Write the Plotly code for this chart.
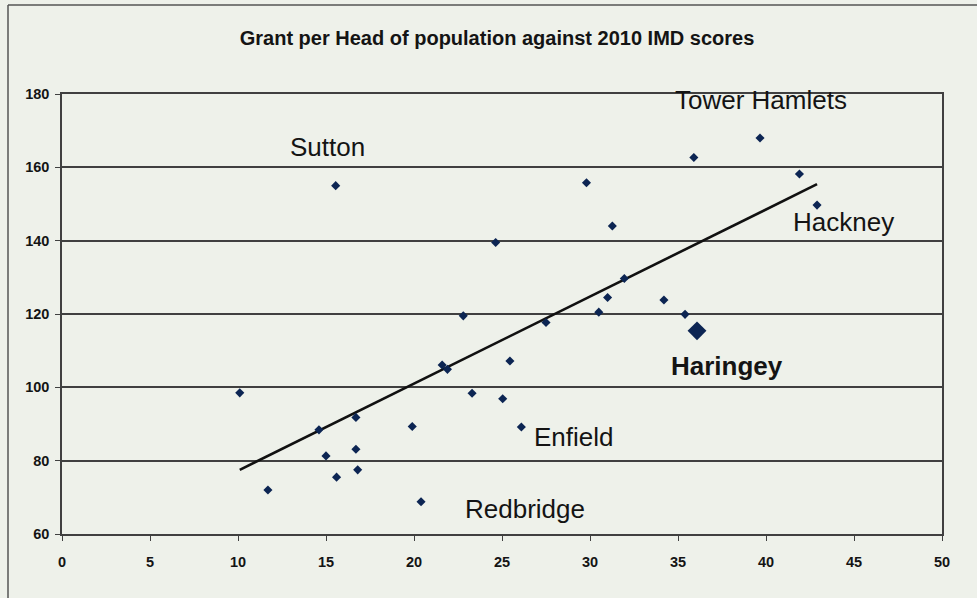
import plotly.graph_objects as go

# IMD 2010 score (x) vs grant per head of population (y), London boroughs
imd_scores = [10.1, 11.7, 14.6, 15.0, 15.6, 15.55, 16.7, 16.7, 16.8, 19.9, 20.4,
              21.6, 21.9, 22.8, 23.3, 24.64, 25.04, 25.45, 26.1, 27.5, 29.8,
              30.5, 31.0, 31.27, 31.95, 34.2, 35.4, 35.9, 39.66, 41.9, 42.9]
grant_per_head = [98.5, 72, 88.4, 81.3, 75.5, 155, 91.8, 83.1, 77.5, 89.3, 68.8,
                  106.1, 104.9, 119.5, 98.4, 139.5, 96.9, 107.2, 89.2, 117.7, 155.8,
                  120.5, 124.5, 144, 129.7, 123.8, 119.9, 162.7, 168, 158.2, 149.7]

# Highlighted borough
haringey_x = [36.08]
haringey_y = [115.4]

# Linear trend line end points
trend_x = [10.1, 42.9]
trend_y = [77.5, 155.4]

# Borough labels
label_names = ["Sutton", "Tower Hamlets", "Hackney", "Haringey", "Enfield", "Redbridge"]
label_x = [15.06, 39.7, 44.4, 37.8, 29.1, 26.3]
label_y = [165.5, 178.4, 145.1, 105.8, 86.5, 66.8]
label_bold = [False, False, False, True, False, False]

x_ticks = [0, 5, 10, 15, 20, 25, 30, 35, 40, 45, 50]
y_ticks = [60, 80, 100, 120, 140, 160, 180]

title_text = "Grant per Head of population against 2010 IMD scores"

W, H = 977, 598
L, R, T, B = 62, 35, 94, 64
pw, ph = W - L - R, H - T - B

BG = "#eef1ea"
NAVY = "#0c2553"
GRID = "#404040"
INK = "#141414"

fig = go.Figure()
fig.add_trace(go.Scatter(x=trend_x, y=trend_y, mode="lines",
                         line=dict(color="#111111", width=2.6),
                         hoverinfo="skip", showlegend=False))
fig.add_trace(go.Scatter(x=imd_scores, y=grant_per_head, mode="markers",
                         marker=dict(symbol="diamond", size=7, color=NAVY),
                         showlegend=False))
fig.add_trace(go.Scatter(x=haringey_x, y=haringey_y, mode="markers",
                         marker=dict(symbol="diamond", size=14.5, color=NAVY),
                         showlegend=False))

for name, lx, ly, b in zip(label_names, label_x, label_y, label_bold):
    fig.add_annotation(x=lx, y=ly, xref="x", yref="y", text=name, showarrow=False,
                       font=dict(family="Liberation Sans, Arial, sans-serif", size=26,
                                 color=INK, weight="bold" if b else "normal"),
                       xanchor="center", yanchor="middle")

# outer frame of the figure in the document
def px_to_paper_x(px):
    return (px - L) / pw

def px_to_paper_y(py):
    return (H - B - py) / ph

fig.add_shape(type="line", xref="paper", yref="paper",
              x0=px_to_paper_x(8), x1=px_to_paper_x(8),
              y0=px_to_paper_y(5), y1=px_to_paper_y(600),
              line=dict(color="#555555", width=1.5))
fig.add_shape(type="line", xref="paper", yref="paper",
              x0=px_to_paper_x(8), x1=px_to_paper_x(980),
              y0=px_to_paper_y(5), y1=px_to_paper_y(5),
              line=dict(color="#555555", width=1.5))

fig.update_layout(
    width=W, height=H,
    margin=dict(l=L, r=R, t=T, b=B),
    paper_bgcolor=BG, plot_bgcolor=BG,
    title=dict(text="<b>" + title_text + "</b>", x=497 / W, xanchor="center",
               xref="container", y=1 - 38 / H, yanchor="middle", yref="container",
               font=dict(family="Liberation Sans, Arial, sans-serif",
                         size=20, color=INK)),
    xaxis=dict(range=[0, 50], tickvals=x_ticks, showgrid=False, zeroline=False,
               showline=True, linecolor=GRID, linewidth=1.5, mirror=True,
               ticks="outside", ticklen=5, tickcolor=GRID, tickwidth=1.3,
               ticklabelstandoff=9,
               tickfont=dict(family="Liberation Sans, Arial, sans-serif", size=14.5,
                             color=INK, weight="bold")),
    yaxis=dict(range=[60, 180], tickvals=y_ticks, showgrid=True, gridcolor=GRID,
               gridwidth=1.6, zeroline=False,
               showline=True, linecolor=GRID, linewidth=1.5, mirror=True,
               ticks="outside", ticklen=5, tickcolor=GRID, tickwidth=1.3,
               ticklabelstandoff=3,
               tickfont=dict(family="Liberation Sans, Arial, sans-serif", size=14.5,
                             color=INK, weight="bold")),
)

fig.write_html("out.html", config={"displayModeBar": False},
               post_script="document.body.style.margin='0';"
                           "document.body.style.background='" + BG + "';")
